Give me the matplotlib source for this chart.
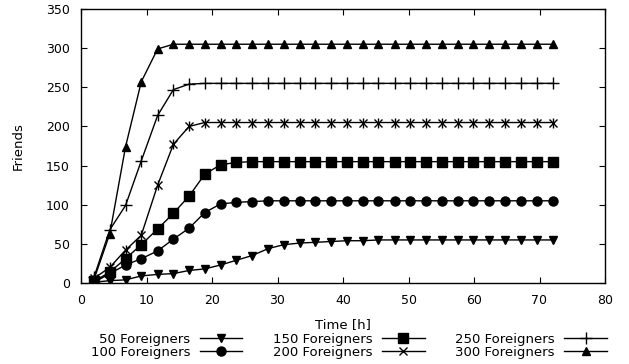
import matplotlib
matplotlib.use("Agg")
import matplotlib.pyplot as plt

time_h = [2.0, 4.4, 6.8, 9.2, 11.7, 14.1, 16.5, 18.9, 21.3, 23.7,
          26.1, 28.6, 31.0, 33.4, 35.8, 38.2, 40.6, 43.0, 45.4, 47.9,
          50.3, 52.7, 55.1, 57.5, 59.9, 62.3, 64.8, 67.2, 69.6, 72.0]

f50 = [1, 3, 4, 9, 11, 12, 16, 18, 23, 29, 35, 44, 49, 51, 52, 53, 54, 54, 55, 55,
       55, 55, 55, 55, 55, 55, 55, 55, 55, 55]
f100 = [1, 12, 23, 31, 41, 56, 70, 90, 101, 103, 104, 105, 105, 105, 105, 105, 105, 105, 105, 105,
        105, 105, 105, 105, 105, 105, 105, 105, 105, 105]
f150 = [2, 14, 31, 49, 69, 89, 111, 139, 151, 154, 155, 155, 155, 155, 155, 155, 155, 155, 155, 155,
        155, 155, 155, 155, 155, 155, 155, 155, 155, 155]
f200 = [6, 20, 42, 61, 125, 177, 200, 205, 205, 205, 205, 205, 205, 205, 205, 205, 205, 205, 205, 205,
        205, 205, 205, 205, 205, 205, 205, 205, 205, 205]
f250 = [8, 68, 99, 156, 214, 247, 254, 255, 255, 255, 255, 255, 255, 255, 255, 255, 255, 255, 255, 255,
        255, 255, 255, 255, 255, 255, 255, 255, 255, 255]
f300 = [5, 63, 174, 257, 299, 305, 305, 305, 305, 305, 305, 305, 305, 305, 305, 305, 305, 305, 305, 305,
        305, 305, 305, 305, 305, 305, 305, 305, 305, 305]

labels = ["50 Foreigners", "100 Foreigners", "150 Foreigners",
          "200 Foreigners", "250 Foreigners", "300 Foreigners"]
series = [f50, f100, f150, f200, f250, f300]
markers = ["v", "o", "s", "x", "+", "^"]
msizes = [6.3, 6.5, 6.8, 6.3, 8, 6.3]

plt.rcParams["font.family"] = ["DejaVu Sans"]
fig = plt.figure(figsize=(6.29, 3.64), dpi=100)
ax = fig.add_axes([81 / 629, 1 - 283 / 364, 524 / 629, 274 / 364])

for lab, ys, m, ms in zip(labels, series, markers, msizes):
    mew = 1.0
    ax.plot(time_h, ys, color="black", linewidth=1.0, marker=m, markersize=ms,
            markeredgewidth=mew, label=lab)
    if m == "x":
        ax.plot(time_h, ys, color="black", linewidth=0, marker="|", markersize=ms + 1.5,
                markeredgewidth=mew)

ax.set_xlim(0, 80)
ax.set_ylim(0, 350)
ax.set_xticks(range(0, 81, 10))
ax.set_yticks(range(0, 351, 50))
ax.tick_params(direction="in", top=True, right=True, labelsize=9, length=4,
               width=0.8, pad=8)
for s in ax.spines.values():
    s.set_linewidth(1.0)
ax.set_xlabel("Time [h]", fontsize=9.5, labelpad=8)
ax.set_ylabel("Friends", fontsize=9.5, labelpad=15)

leg = ax.legend(ncol=3, loc="upper center", bbox_to_anchor=(0.511, -0.158),
                frameon=False, markerfirst=False, fontsize=9.5,
                handlelength=3.2, columnspacing=2.3, labelspacing=0.0,
                handletextpad=0.75, borderpad=0.0)
for t in leg.get_texts():
    t.set_ha("right")

fig.savefig("out.png", dpi=100)
